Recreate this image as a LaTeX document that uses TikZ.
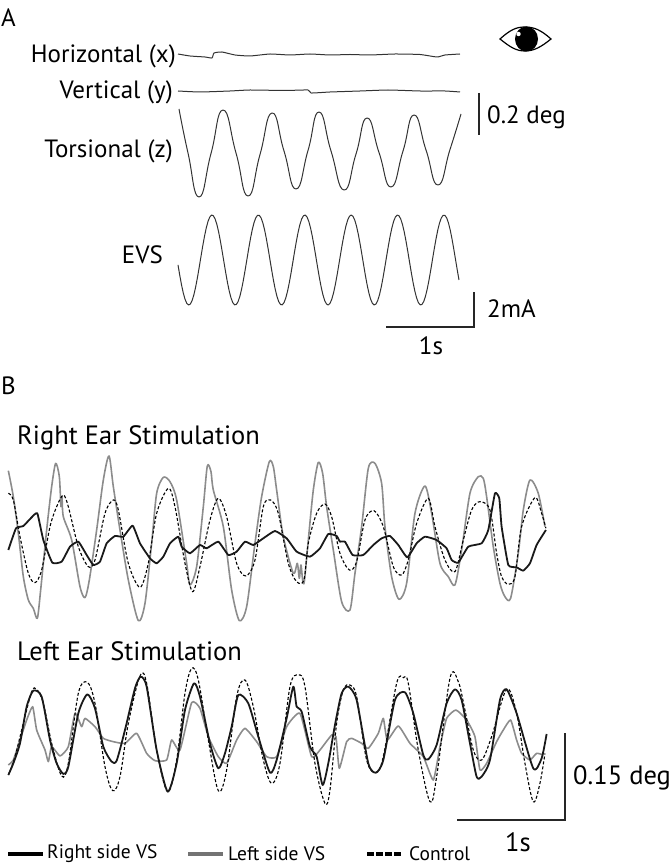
\documentclass[tikz,border=0pt]{standalone}
\usepackage{fontspec}
\setmainfont{PT Sans}
\usetikzlibrary{positioning}
\tikzset{
	lbl/.style={font=\fontsize{25}{28}\selectfont, inner sep=0pt, yshift=-2pt},
	lblbig/.style={font=\fontsize{26.5}{30}\selectfont, inner sep=0pt, yshift=-2pt},
	lblleg/.style={font=\fontsize{19.5}{22}\selectfont, inner sep=0pt, yshift=-1pt},
	scalebar/.style={line width=1.6pt, color=black!85},
	eyetrace/.style={line width=1pt, color=black!80, line join=round},
	rightvs/.style={line width=1.8pt, color=black!90, line join=round},
	leftvs/.style={line width=1.6pt, color=black!45, line join=round},
	ctrlvs/.style={line width=1.1pt, color=black, dash pattern=on 3pt off 2pt}
}
\begin{document}
\begin{tikzpicture}[x=1pt, y=-1pt]
	\useasboundingbox (0, 0) rectangle (670, 866);
	% panel A
	\node[lbl, anchor=west] (panelA) at (1, 16) {A};
	\node[lbl, anchor=east] (horiz) at (176, 54) {Horizontal (x)};
	\node[lbl, anchor=east] (vert) at (173, 90) {Vertical (y)};
	\node[lbl, anchor=east] (tors) at (173, 149) {Torsional (z)};
	\node[lbl, anchor=east] (evs) at (163, 253) {EVS};
	\draw[eyetrace] plot [smooth, tension=0.3] coordinates {
		(178, 54) (190, 56) (205, 57) (212, 58) (214, 53) (222, 52) (235, 55) (250, 56) (270, 54)
		(290, 55) (310, 54) (330, 55) (350, 54.5) (370, 55) (395, 54) (420, 54.5) (437, 57) (445, 55) (460, 54)
	};
	\draw[eyetrace] plot [smooth, tension=0.3] coordinates {
		(178, 91) (200, 92) (230, 91) (250, 90) (285, 90.5) (308, 90) (311, 93) (330, 92)
		(360, 91) (388, 90) (420, 91) (445, 91) (460, 92)
	};
	\draw[eyetrace] plot [smooth, tension=0.9] coordinates {
		(179, 109) (188, 153) (199, 197) (211, 153.5) (223, 110) (236, 153) (248, 196) (260, 154.5)
		(272, 113) (284, 151) (296, 189) (308, 150.5) (319, 112) (331, 151) (344, 190) (356, 154)
		(367, 118) (379, 152.5) (391, 187) (403, 151) (414, 115) (426, 150) (438, 185) (450, 149.5) (461, 114)
	};
	\draw[eyetrace] plot [domain=178:459, samples=160] (\x, {260 - 45*cos(7.7586*(\x - 212))});
	% eye
	\draw[line width=1.2pt, fill=white] (500, 39) .. controls (510, 30) and (516, 27) .. (525, 27)
		.. controls (534, 27) and (541, 30) .. (551, 39)
		.. controls (541, 47) and (534, 51) .. (525, 51)
		.. controls (516, 51) and (510, 47) .. (500, 39) -- cycle;
	\fill[black] (526.5, 39) ellipse (11.5 and 12.5);
	\fill[white] (518.5, 34) circle (2.2);
	% scale bars of A
	\coordinate (degtop) at (479, 93);
	\coordinate (degbot) at (479, 135);
	\draw[scalebar] (degtop) -- (degbot);
	\node[lbl, anchor=west] (degA) at (487, 115) {0.2 deg};
	\coordinate (matop) at (474, 292);
	\coordinate (macorner) at (474, 327);
	\coordinate (secA) at (386, 327);
	\draw[scalebar] (matop) -- (macorner) -- (secA);
	\node[lbl, anchor=west] (maA) at (487, 307) {2mA};
	\node[lbl] (oneA) at (431, 344) {1s};
	% panel B
	\node[lbl, anchor=west] (panelB) at (1, 384) {B};
	\node[lblbig, anchor=west] (rightear) at (17, 436) {Right Ear Stimulation};
	\node[lblbig, anchor=west] (leftear) at (17, 649) {Left Ear Stimulation};
	\begin{scope}[shift={(0, 430)}, x=0.3333pt, y=-0.3333pt]
		\draw[leftvs] plot [smooth, tension=0.45] coordinates {
			(25, 122) (40, 200) (55, 310) (70, 440) (85, 510) (100, 535) (112, 565) (122, 480) (140, 300)
			(155, 170) (167, 100) (178, 140) (183, 230) (186, 200) (190, 260) (215, 330) (240, 470) (255, 503) (268, 450)
			(290, 300) (310, 150) (327, 78) (340, 170) (360, 300) (385, 450) (415, 572) (435, 520)
			(455, 340) (470, 190) (490, 142) (510, 155) (530, 210) (560, 400) (570, 465) (590, 410)
			(610, 230) (622, 108) (633, 125) (640, 180) (670, 290) (695, 480) (718, 572) (740, 530)
			(765, 340) (785, 200) (808, 95) (820, 110) (830, 180) (850, 320) (880, 430) (892, 400) (898, 445) (903, 405)
			(908, 450) (913, 455) (925, 330) (940, 180) (955, 97) (968, 130) (980, 230) (1000, 360) (1025, 515)
			(1050, 540) (1065, 430) (1085, 290) (1105, 115) (1125, 100) (1145, 160) (1155, 290) (1175, 440)
			(1197, 508) (1220, 460) (1245, 250) (1275, 168) (1295, 250) (1320, 400) (1345, 440) (1365, 465)
			(1385, 360) (1410, 190) (1435, 140) (1450, 145) (1460, 200) (1480, 350) (1500, 460) (1515, 500)
			(1532, 505) (1555, 370) (1570, 240) (1590, 150) (1615, 190) (1635, 290)
		};
		\draw[ctrlvs] plot [smooth, tension=0.5] coordinates {
			(25, 190) (40, 210) (60, 320) (85, 430) (105, 458) (125, 420) (150, 290) (170, 230) (190, 195)
			(205, 230) (235, 350) (265, 410) (285, 390) (315, 250) (340, 210) (355, 240) (385, 400)
			(420, 472) (445, 400) (470, 250) (505, 175) (525, 230) (555, 400) (578, 485) (600, 410)
			(630, 270) (655, 205) (680, 260) (710, 400) (738, 438) (765, 390) (790, 230) (812, 210)
			(835, 250) (865, 400) (890, 455) (912, 450) (925, 340) (950, 250) (975, 222) (995, 260)
			(1020, 370) (1048, 420) (1070, 395) (1095, 270) (1122, 242) (1150, 290) (1180, 410) (1205, 435)
			(1225, 390) (1250, 280) (1285, 205) (1305, 290) (1335, 390) (1365, 425) (1390, 330) (1415, 240)
			(1440, 215) (1470, 240) (1490, 370) (1505, 440) (1525, 463) (1545, 440) (1565, 290) (1605, 203)
			(1625, 250) (1638, 295)
		};
		\draw[rightvs] plot [smooth, tension=0.25] coordinates {
			(25, 360) (48, 295) (70, 288) (95, 262) (112, 250) (130, 330) (157, 398) (185, 395) (210, 350)
			(235, 335) (260, 375) (280, 405) (300, 395) (320, 340) (345, 318) (370, 320) (398, 287)
			(420, 340) (450, 385) (470, 400) (490, 380) (510, 340) (535, 320) (545, 350) (570, 370)
			(600, 345) (620, 355) (655, 335) (685, 375) (710, 365) (735, 335) (760, 345) (790, 325)
			(825, 303) (860, 325) (890, 365) (930, 380) (960, 355) (985, 312) (1010, 318) (1020, 335)
			(1035, 335) (1058, 375) (1090, 375) (1120, 345) (1145, 325) (1170, 318) (1195, 345) (1222, 382)
			(1250, 340) (1275, 320) (1310, 330) (1340, 355) (1355, 390) (1375, 398) (1405, 350) (1445, 340)
			(1465, 300) (1485, 190) (1498, 205) (1505, 290) (1525, 405) (1550, 412) (1570, 422) (1590, 400)
			(1610, 345) (1638, 300)
		};
	\end{scope}
	\begin{scope}[shift={(0, 650)}, x=0.3333pt, y=-0.3333pt]
		\draw[leftvs] plot [smooth, tension=0.3] coordinates {
			(25, 345) (40, 330) (60, 270) (80, 210) (98, 170) (110, 240) (135, 300) (145, 335) (155, 290)
			(180, 318) (205, 290) (225, 190) (245, 230) (255, 205) (285, 230) (310, 265) (340, 275)
			(375, 280) (410, 250) (440, 310) (465, 332) (500, 330) (515, 270) (540, 300) (575, 158)
			(600, 175) (625, 260) (655, 320) (680, 340) (710, 270) (735, 235) (770, 275) (800, 320)
			(830, 320) (860, 230) (900, 190) (935, 320) (960, 300) (995, 255) (1008, 260) (1018, 355)
			(1040, 275) (1055, 265) (1085, 280) (1105, 295) (1135, 250) (1150, 205) (1162, 270) (1195, 228)
			(1230, 280) (1270, 320) (1300, 390) (1320, 290) (1340, 205) (1368, 180) (1400, 210) (1425, 260)
			(1440, 360) (1460, 340) (1490, 275) (1510, 240) (1532, 210) (1550, 270) (1565, 310) (1590, 330)
			(1610, 310) (1630, 315)
		};
		\draw[ctrlvs] plot [smooth, tension=0.55] coordinates {
			(25, 375) (45, 320) (70, 220) (95, 125) (110, 118) (130, 160) (155, 280) (185, 378) (205, 340)
			(235, 130) (262, 97) (285, 160) (315, 350) (338, 422) (360, 380) (385, 220) (420, 78)
			(440, 100) (470, 300) (503, 425) (530, 330) (555, 130) (575, 55) (595, 90) (625, 270)
			(655, 422) (680, 360) (710, 140) (735, 90) (760, 170) (790, 330) (815, 400) (840, 340)
			(870, 110) (895, 75) (915, 110) (945, 340) (975, 460) (990, 420) (1010, 220) (1030, 120)
			(1050, 105) (1070, 140) (1100, 330) (1128, 368) (1150, 320) (1190, 100) (1210, 83) (1225, 100)
			(1255, 300) (1290, 455) (1310, 380) (1350, 85) (1375, 95) (1395, 180) (1420, 300) (1445, 330)
			(1475, 260) (1520, 118) (1550, 190) (1575, 340) (1600, 455) (1620, 400) (1635, 310)
		};
		\draw[rightvs] plot [smooth, tension=0.4] coordinates {
			(25, 375) (40, 340) (60, 280) (80, 170) (100, 122) (125, 140) (150, 270) (170, 340) (190, 372)
			(205, 350) (235, 190) (262, 133) (285, 175) (310, 290) (335, 335) (350, 332) (375, 240)
			(405, 115) (422, 80) (440, 110) (470, 300) (503, 425) (530, 340) (555, 180) (582, 100)
			(600, 140) (630, 280) (655, 355) (675, 310) (695, 230) (715, 135) (745, 160) (775, 260)
			(810, 368) (830, 330) (860, 205) (880, 110) (890, 170) (905, 185) (930, 290) (950, 320)
			(968, 405) (985, 340) (1005, 225) (1025, 130) (1045, 110) (1070, 150) (1105, 340) (1128, 368)
			(1150, 330) (1185, 150) (1215, 127) (1240, 190) (1270, 315) (1285, 328) (1310, 285) (1340, 160)
			(1365, 118) (1385, 150) (1410, 280) (1430, 380) (1445, 380) (1470, 330) (1500, 150) (1520, 118)
			(1550, 190) (1600, 355) (1625, 325) (1640, 252)
		};
	\end{scope}
	% scale bars of B
	\coordinate (degtopB) at (565, 733);
	\coordinate (cornerB) at (565, 820);
	\coordinate (secB) at (457, 820);
	\draw[scalebar] (degtopB) -- (cornerB) -- (secB);
	\node[lblbig, anchor=west] (degB) at (573, 776) {0.15 deg};
	\node[lblbig] (oneB) at (518, 840) {1s};
	% legend
	\coordinate (rightA) at (8, 854);
	\coordinate (rightB) at (43, 854);
	\draw[line width=3.5pt, color=black] (rightA) -- (rightB);
	\node[lblleg, anchor=west] (rightlbl) at (47, 853) {Right side VS};
	\coordinate (leftA) at (188, 854);
	\coordinate (leftB) at (223, 854);
	\draw[line width=3.5pt, color=black!55] (leftA) -- (leftB);
	\node[lblleg, anchor=west] (leftlbl) at (228, 853) {Left side VS};
	\coordinate (ctrlA) at (367, 854);
	\coordinate (ctrlB) at (402, 854);
	\draw[line width=3.5pt, color=black, dash pattern=on 6.5pt off 2.5pt] (ctrlA) -- (ctrlB);
	\node[lblleg, anchor=west] (ctrllbl) at (409, 853) {Control};
\end{tikzpicture}
\end{document}
